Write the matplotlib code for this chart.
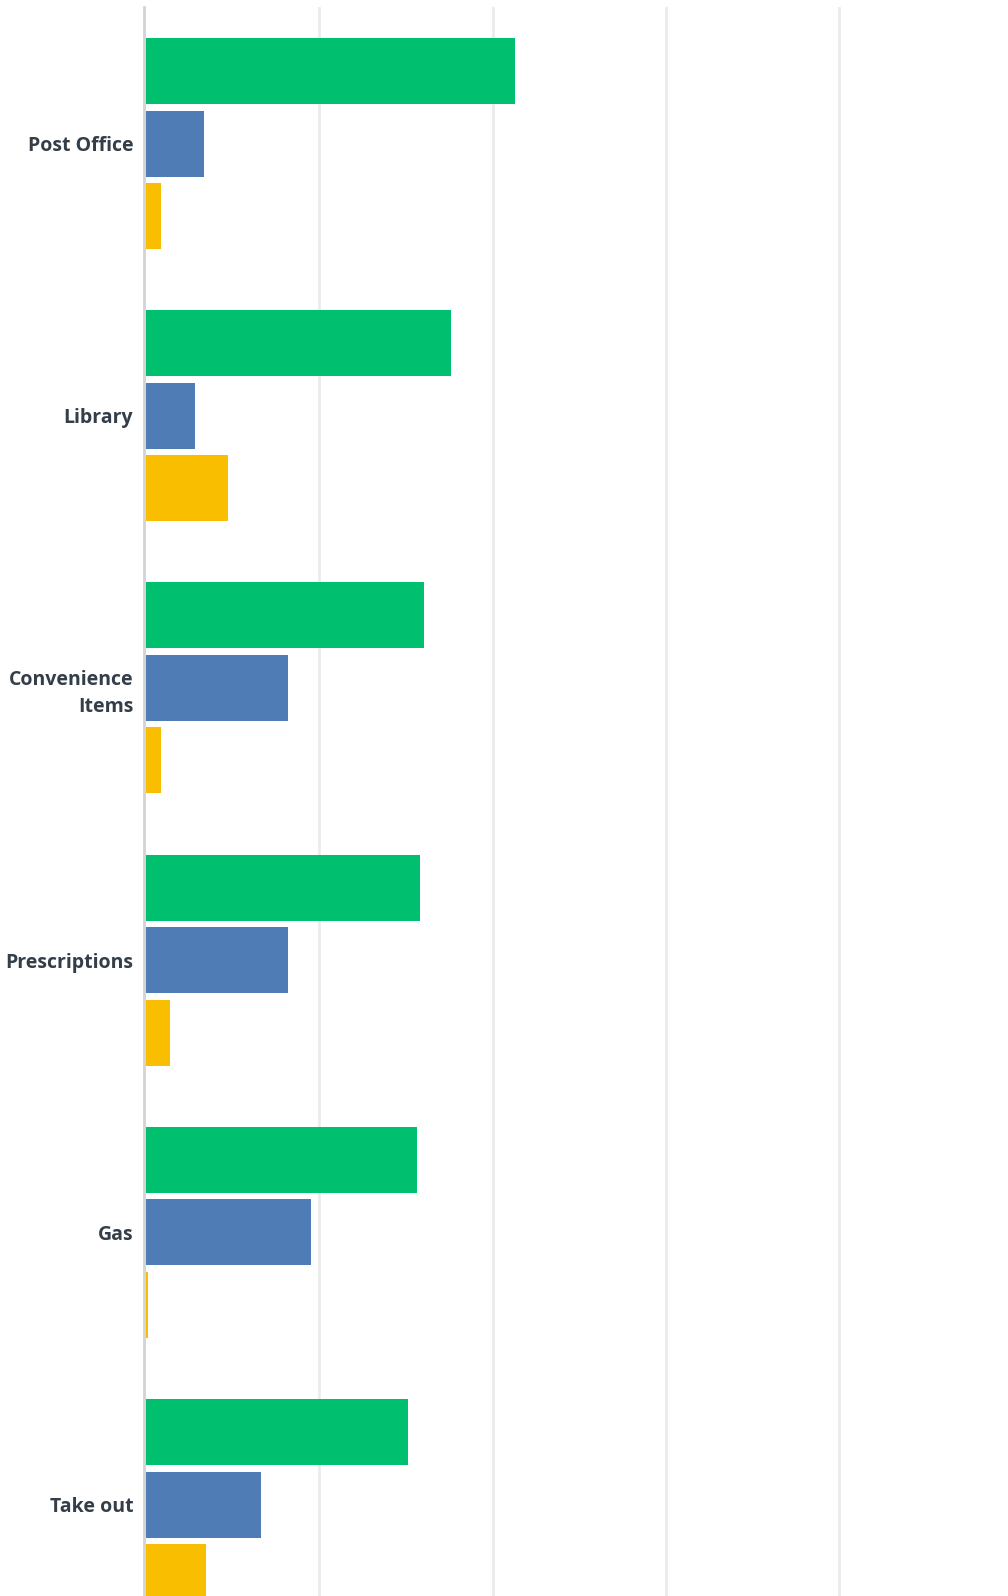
import matplotlib
matplotlib.use("Agg")
import matplotlib.pyplot as plt
import numpy as np

categories = ["Post Office", "Library", "Convenience\nItems", "Prescriptions", "Gas", "Take out"]
series_green = [42.6, 35.2, 32.1, 31.6, 31.3, 30.2]
series_blue = [6.7, 5.65, 16.4, 16.4, 19.0, 13.3]
series_yellow = [1.75, 9.45, 1.75, 2.75, 0.25, 6.9]
colors = ["#00BF6F", "#507CB6", "#F9BE00"]
grid_ticks = [20, 40, 60, 80]

W, H = 1008, 1596
fig = plt.figure(figsize=(W / 100, H / 100), dpi=100)
fig.patch.set_facecolor("white")

top_px = 7.4
pitch = 272.2
left_px = 146
unit_px = 173.3 / 20
n = len(categories)
bottom_px = top_px + n * pitch
ax = fig.add_axes([left_px / W, (H - bottom_px) / H, (W - left_px) / W, (bottom_px - top_px) / H])

y = np.arange(n)
bh = 66 / pitch
off = 72.5 / pitch
for vals, dy, c in zip([series_green, series_blue, series_yellow], [-off, 0, off], colors):
    ax.barh(y + dy, vals, height=bh, color=c, zorder=5, linewidth=0)

ax.set_ylim(n - 0.5, -0.5)
ax.set_xlim(0, (W - left_px) / unit_px)
ax.set_xticks(grid_ticks)
ax.set_xticklabels([])
ax.tick_params(axis="x", length=0)
ax.grid(axis="x", color="#ebebeb", linewidth=2, zorder=0)
for s in ["top", "right", "bottom"]:
    ax.spines[s].set_visible(False)
ax.spines["left"].set_color("#d3d3d3")
ax.spines["left"].set_linewidth(2)
ax.spines["left"].set_position(("outward", 1.2))
ax.spines["left"].set_zorder(4)

ax.set_yticks(y)
ax.set_yticklabels(categories, fontsize=14, fontweight="bold", color="#333e48",
                   family=["Open Sans", "DejaVu Sans"], linespacing=1.45)
ax.tick_params(axis="y", length=0, pad=8)

fig.savefig("out.png", dpi=100, facecolor="white")
